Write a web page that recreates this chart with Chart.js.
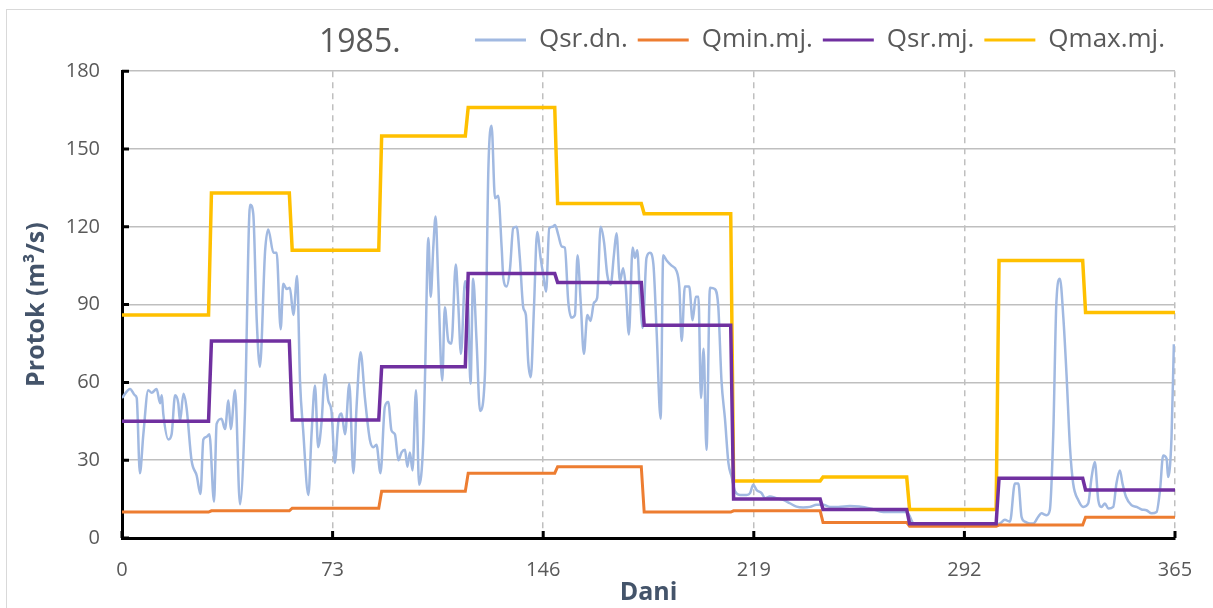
<!DOCTYPE html>
<html>
<head>
<meta charset="utf-8">
<script src="https://cdn.jsdelivr.net/npm/chart.js@4/dist/chart.umd.min.js"></script>
<style>
  html, body { margin: 0; padding: 0; background: #fff; overflow: hidden; }
  #frame { position: absolute; left: 6px; top: 9px; width: 1300px; height: 700px; border: 1px solid #d9d9d9; }
  #wrap { position: absolute; left: 0; top: 0; width: 1213px; height: 608px; }
</style>
</head>
<body>
<div id="frame"></div>
<div id="wrap"><canvas id="chart" width="1213" height="608"></canvas></div>
<script>
// monthly statistics (month start day, values)
var monthStart = [0, 31, 59, 90, 120, 151, 181, 212, 243, 273, 304, 334];
var yearEnd = 365;
var qMinMj = [10, 10.5, 11.5, 18, 25, 27.5, 10, 10.5, 6, 4.5, 5, 8];
var qSrMj = [45, 76, 45.5, 66, 102, 98.5, 82, 15, 11, 5.5, 23, 18.5];
var qMaxMj = [86, 133, 111, 155, 166, 129, 125, 22, 23.5, 11, 107, 87];

// daily discharge: [day, m3/s]
var qSrDn = [
  [0, 54], [2.8, 57.5], [4.5, 55], [5.1, 54], [6.2, 25], [7.4, 40], [9.1, 57], [10.3, 56], [12, 57.5], [13.2, 52],
  [13.8, 55], [14.3, 48], [16.1, 38], [17.2, 40], [18.4, 55], [19.5, 52], [20.1, 45], [21.3, 55.6], [22.4, 50], [24.1, 30],
  [25.9, 24], [27.2, 17], [28.2, 38], [29.3, 39], [30.3, 40], [31.9, 14], [32.8, 44], [34.5, 46], [35.7, 42], [36.9, 53],
  [37.7, 42], [39.2, 57], [40.9, 13], [42.6, 48], [44.4, 128.5], [45.5, 125], [46.7, 84], [47.8, 66], [49.6, 110.6], [50.7, 119],
  [52.5, 110], [53.6, 110], [55, 80.5], [55.9, 98], [57.1, 96], [58.2, 96.5], [59.4, 86], [60.7, 101], [61.7, 60.7], [62.8, 41.5],
  [64.6, 16.6], [65.7, 40], [66.9, 58.8], [68, 35], [69.2, 45], [70.3, 63], [71.5, 53], [72.6, 49], [73.8, 29], [75, 45],
  [76.1, 48], [77.3, 40], [78.8, 59.5], [80.2, 25], [81.3, 50.5], [82.7, 71.6], [84.2, 54], [85.9, 38], [87.1, 35], [88.2, 36],
  [89.6, 25], [91.1, 50.5], [92.3, 52.4], [93.4, 41.5], [94.6, 40], [95.8, 30], [96.9, 33], [98.1, 34], [98.9, 27.5], [99.8, 33],
  [100.7, 26], [101.9, 57], [103, 20.5], [104.4, 36.4], [105, 60.7], [106.2, 115.7], [107, 93], [107.9, 112], [108.7, 124], [109.6, 99.3],
  [111, 60.7], [111.9, 89], [113.1, 76], [114.2, 75], [115.7, 105.5], [116.5, 91.6], [117.5, 71], [118.9, 99], [120, 89], [120.8, 59.5],
  [121.7, 100], [122.9, 76], [124.1, 49], [125.8, 63], [127, 142.5], [128.1, 159], [129.3, 131], [130.4, 132], [131.6, 112], [132.2, 100],
  [133.3, 97], [134.5, 104], [135.6, 119.5], [136.8, 120], [137.9, 108], [139.1, 88.8], [140, 86], [140.8, 68], [141.7, 62], [142.8, 88.8],
  [143.9, 118], [145.1, 108], [146, 101.5], [147, 95], [148.1, 119.5], [149.3, 120], [150.1, 120.7], [151.2, 117], [152.4, 112.4], [153.5, 112],
  [154.7, 91], [155.8, 85], [157, 86], [157.9, 109], [159, 91], [160.1, 71], [161.3, 86], [162.4, 83.7], [163.6, 90.7], [164.7, 92.6],
  [165.9, 120], [167.1, 114], [168.2, 101.5], [169.4, 97.7], [170.5, 109], [171.4, 117.5], [172.6, 99], [173.7, 104], [174.6, 97], [175.7, 78.5],
  [177, 112], [177.8, 108], [178.6, 111], [179.5, 94], [180.5, 81], [181.8, 108], [183, 110], [184.2, 105.5], [185.3, 80], [186.7, 46],
  [187.6, 109], [188.8, 107], [190.5, 105], [192.2, 103], [193.2, 96.5], [194, 76], [195.1, 97], [196.6, 97], [197.8, 84], [198.9, 93],
  [199.8, 93], [200.7, 54], [201.6, 73], [202.6, 34], [203.8, 96.5], [205.5, 96], [206.7, 89], [207.8, 60.7], [209, 46], [210.2, 29],
  [211.3, 23.7], [212.5, 18], [214.2, 16.6], [216.5, 16.6], [217.7, 17.3], [218.8, 20.5], [220, 18.5], [221.7, 17.3], [222.9, 15.3], [224.6, 16],
  [226.9, 15.3], [229.2, 14.7], [231.5, 13.4], [233.8, 12.1], [236.1, 11.8], [238.5, 12], [240.8, 12.8], [243.1, 12.8], [245.4, 12], [248.3, 12],
  [252.3, 12.3], [259.3, 11.4], [263.9, 10], [268.5, 10], [272, 10], [274.3, 5.6], [275.7, 5], [285, 5], [295, 5], [303, 5.2],
  [304.3, 5.6], [306, 7], [307.8, 6.3], [309.5, 21], [310.7, 21], [311.8, 8.2], [313, 6.3], [314.7, 5.6], [315.9, 5.6], [317.6, 8.2],
  [318.7, 9.5], [320.5, 8.8], [321.6, 10.7], [322.8, 40], [323.9, 91.3], [325.1, 100], [326.3, 85], [327.4, 63], [328.6, 35], [329.7, 21],
  [331.5, 14.6], [333.2, 12], [334.9, 13.3], [336.1, 23.5], [337.2, 29.3], [338.4, 14.6], [339.5, 12], [340.7, 13.3], [341.9, 11.4], [343.6, 12],
  [344.7, 21], [345.9, 26], [346.8, 21], [348, 15.9], [349.9, 12.7], [351.7, 12], [353.4, 11], [355.1, 10.7], [356.9, 9.5], [358.6, 10],
  [359.8, 18.4], [360.9, 31.8], [362.1, 30.6], [362.6, 23.5], [363.8, 39], [364.6, 74.7]
];

var xTicks = [0, 73, 146, 219, 292, 365];
var yTicks = [0, 30, 60, 90, 120, 150, 180];

// turn monthly values into a step line (1 day transition between months)
function monthSteps(values) {
    var pts = [];
    for (var i = 0; i < values.length; i++) {
        var end = i + 1 < monthStart.length ? monthStart[i + 1] - 1 : yearEnd;
        pts.push({ x: monthStart[i], y: values[i] });
        pts.push({ x: end, y: values[i] });
    }
    return pts;
}

Chart.defaults.font.family = '"Open Sans", sans-serif';
Chart.defaults.color = '#595959';

// year label at the left of the legend row
var yearTitle = {
    id: 'yearTitle',
    afterDraw: function (chart) {
        var ctx = chart.ctx;
        ctx.save();
        ctx.font = '32px "Open Sans"';
        ctx.fillStyle = '#595959';
        ctx.textBaseline = 'middle';
        ctx.fillText('1985.', 319, 43);
        ctx.restore();
    }
};

// tick marks pointing into the plot, like the Excel original
var innerTicks = {
    id: 'innerTicks',
    afterDraw: function (chart) {
        var ctx = chart.ctx, xs = chart.scales.x, ys = chart.scales.y;
        ctx.save();
        ctx.strokeStyle = '#000';
        ctx.lineWidth = 3;
        ctx.beginPath();
        yTicks.forEach(function (v) {
            var py = ys.getPixelForValue(v);
            ctx.moveTo(xs.left, py);
            ctx.lineTo(xs.left + 7, py);
        });
        xTicks.forEach(function (v) {
            var px = xs.getPixelForValue(v);
            ctx.moveTo(px, ys.bottom);
            ctx.lineTo(px, ys.bottom - 7);
        });
        ctx.stroke();
        ctx.restore();
    }
};

new Chart(document.getElementById('chart'), {
    type: 'line',
    data: {
        datasets: [
            {
                label: 'Qsr.dn.',
                data: qSrDn.map(function (d) { return { x: d[0], y: d[1] }; }),
                borderColor: '#a1b9e1',
                backgroundColor: '#a1b9e1',
                borderWidth: 2.5,
                pointRadius: 0,
                cubicInterpolationMode: 'monotone',
                order: 4
            },
            {
                label: 'Qmin.mj.',
                data: monthSteps(qMinMj),
                borderColor: '#ed7d31',
                backgroundColor: '#ed7d31',
                borderWidth: 3,
                pointRadius: 0,
                tension: 0,
                order: 3
            },
            {
                label: 'Qsr.mj.',
                data: monthSteps(qSrMj),
                borderColor: '#7030a0',
                backgroundColor: '#7030a0',
                borderWidth: 3.5,
                pointRadius: 0,
                tension: 0,
                order: 1
            },
            {
                label: 'Qmax.mj.',
                data: monthSteps(qMaxMj),
                borderColor: '#ffc000',
                backgroundColor: '#ffc000',
                borderWidth: 3.5,
                pointRadius: 0,
                tension: 0,
                order: 2
            }
        ]
    },
    options: {
        responsive: false,
        animation: false,
        layout: { padding: { top: 17, right: 38, left: 0, bottom: 0 } },
        plugins: {
            title: { display: false },
            // empty spacer between legend row and plot
            subtitle: { display: true, text: '', position: 'top', weight: 500, font: { size: 1 }, padding: { top: 0, bottom: 7 } },
            tooltip: { enabled: false },
            legend: {
                position: 'top',
                align: 'end',
                labels: {
                    font: { size: 26 },
                    color: '#595959',
                    boxWidth: 51,
                    boxHeight: 3,
                    padding: 10,
                    sort: function (a, b) { return a.datasetIndex - b.datasetIndex; },
                    generateLabels: function (chart) {
                        return chart.data.datasets.map(function (ds, i) {
                            return {
                                text: ds.label,
                                fillStyle: ds.borderColor,
                                strokeStyle: ds.borderColor,
                                lineWidth: 0,
                                fontColor: '#595959',
                                hidden: false,
                                datasetIndex: i
                            };
                        });
                    }
                }
            }
        },
        scales: {
            x: {
                type: 'linear',
                min: 0,
                max: 365,
                afterFit: function (scale) { scale.height = 70; },
                afterBuildTicks: function (scale) {
                    scale.ticks = xTicks.map(function (v) { return { value: v }; });
                },
                ticks: { font: { size: 20 }, color: '#595959', padding: 20, maxRotation: 0, autoSkip: false },
                grid: {
                    drawTicks: false,
                    color: function (c) { return c.tick && c.tick.value === 0 ? 'rgba(0,0,0,0)' : '#bfbfbf'; },
                    lineWidth: 1.5
                },
                border: { color: '#000', width: 3, dash: [6, 5] },
                title: {
                    display: true,
                    text: 'Dani',
                    color: '#44546a',
                    font: { size: 25, weight: 'bold' },
                    padding: { top: 0, bottom: 0 }
                }
            },
            y: {
                min: 0,
                max: 180,
                afterFit: function (scale) { scale.width = 122; },
                afterBuildTicks: function (scale) {
                    scale.ticks = yTicks.map(function (v) { return { value: v }; });
                },
                ticks: { font: { size: 20 }, color: '#595959', padding: 22 },
                grid: { drawTicks: false, color: '#bfbfbf', lineWidth: 1.5 },
                border: { color: '#000', width: 3 },
                title: {
                    display: true,
                    text: 'Protok (m³/s)',
                    color: '#44546a',
                    font: { size: 25, weight: 'bold' },
                    padding: { top: 22, bottom: 0 }
                }
            }
        }
    },
    plugins: [yearTitle, innerTicks]
});
</script>
</body>
</html>
